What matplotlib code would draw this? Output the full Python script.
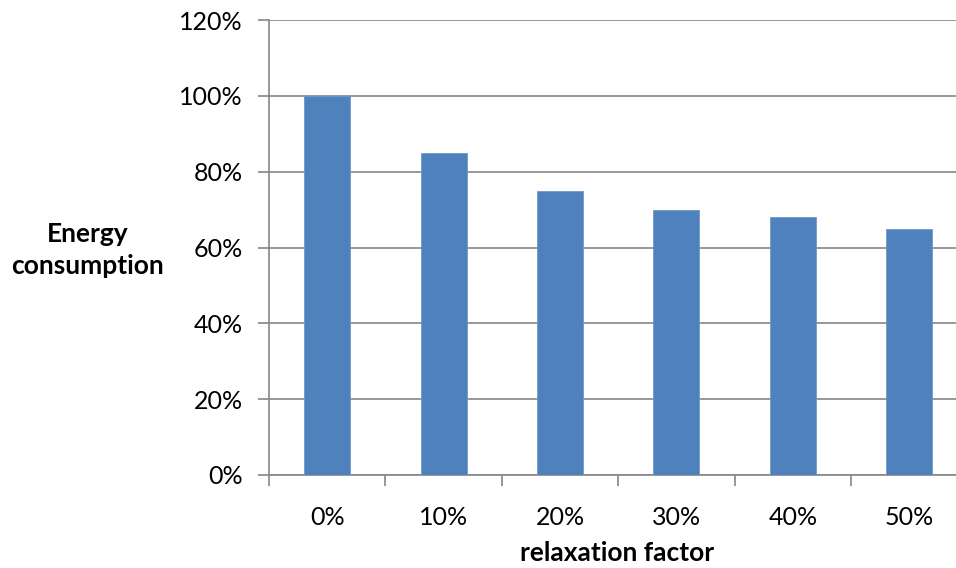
import matplotlib
matplotlib.use("Agg")
import matplotlib.pyplot as plt
from matplotlib.ticker import PercentFormatter

categories = ["0%", "10%", "20%", "30%", "40%", "50%"]
energy = [100, 85, 75, 70, 68, 65]
y_ticks = [0, 20, 40, 60, 80, 100, 120]

plt.rcParams['font.family'] = ['Lato', 'DejaVu Sans']

W, H = 956, 568
fig = plt.figure(figsize=(W / 100, H / 100), dpi=100)
left, right, top, bottom = 269, 967.5, 20, 475
ax = fig.add_axes([left / W, 1 - bottom / H, (right - left) / W, (bottom - top) / H])

grid_c = "#868686"
x = range(len(categories))
ax.bar(x, energy, width=0.395, color="#4F81BD", edgecolor="#6E98CB", linewidth=0.6, zorder=3)

ax.set_xlim(-0.5, len(categories) - 0.5)
ax.set_ylim(0, 120)
ax.set_yticks(y_ticks)
ax.yaxis.set_major_formatter(PercentFormatter(decimals=0))
ax.yaxis.grid(True, color=grid_c, linewidth=1.2, zorder=0)

ax.set_xticks([i for i in x])
ax.set_xticklabels(categories)
ax.set_xticks([i + 0.5 for i in range(-1, len(categories))], minor=True)
ax.tick_params(axis="x", which="major", length=0, pad=22, labelsize=18)
ax.tick_params(axis="x", which="minor", length=8, width=1.2, color=grid_c)
ax.tick_params(axis="y", length=8, width=1.2, color=grid_c, labelsize=18, pad=11)

for s in ["top", "right"]:
    ax.spines[s].set_visible(False)
for s in ["left", "bottom"]:
    ax.spines[s].set_color(grid_c)
    ax.spines[s].set_linewidth(1.2)

fig.text(617 / W, 1 - 553 / H, "relaxation factor", ha="center", va="center",
         fontsize=19, fontweight="bold")
fig.text(88 / W, 1 - 250 / H, "Energy\nconsumption", ha="center", va="center",
         fontsize=19, fontweight="bold", linespacing=1.4)

fig.savefig("out.png", dpi=100)
